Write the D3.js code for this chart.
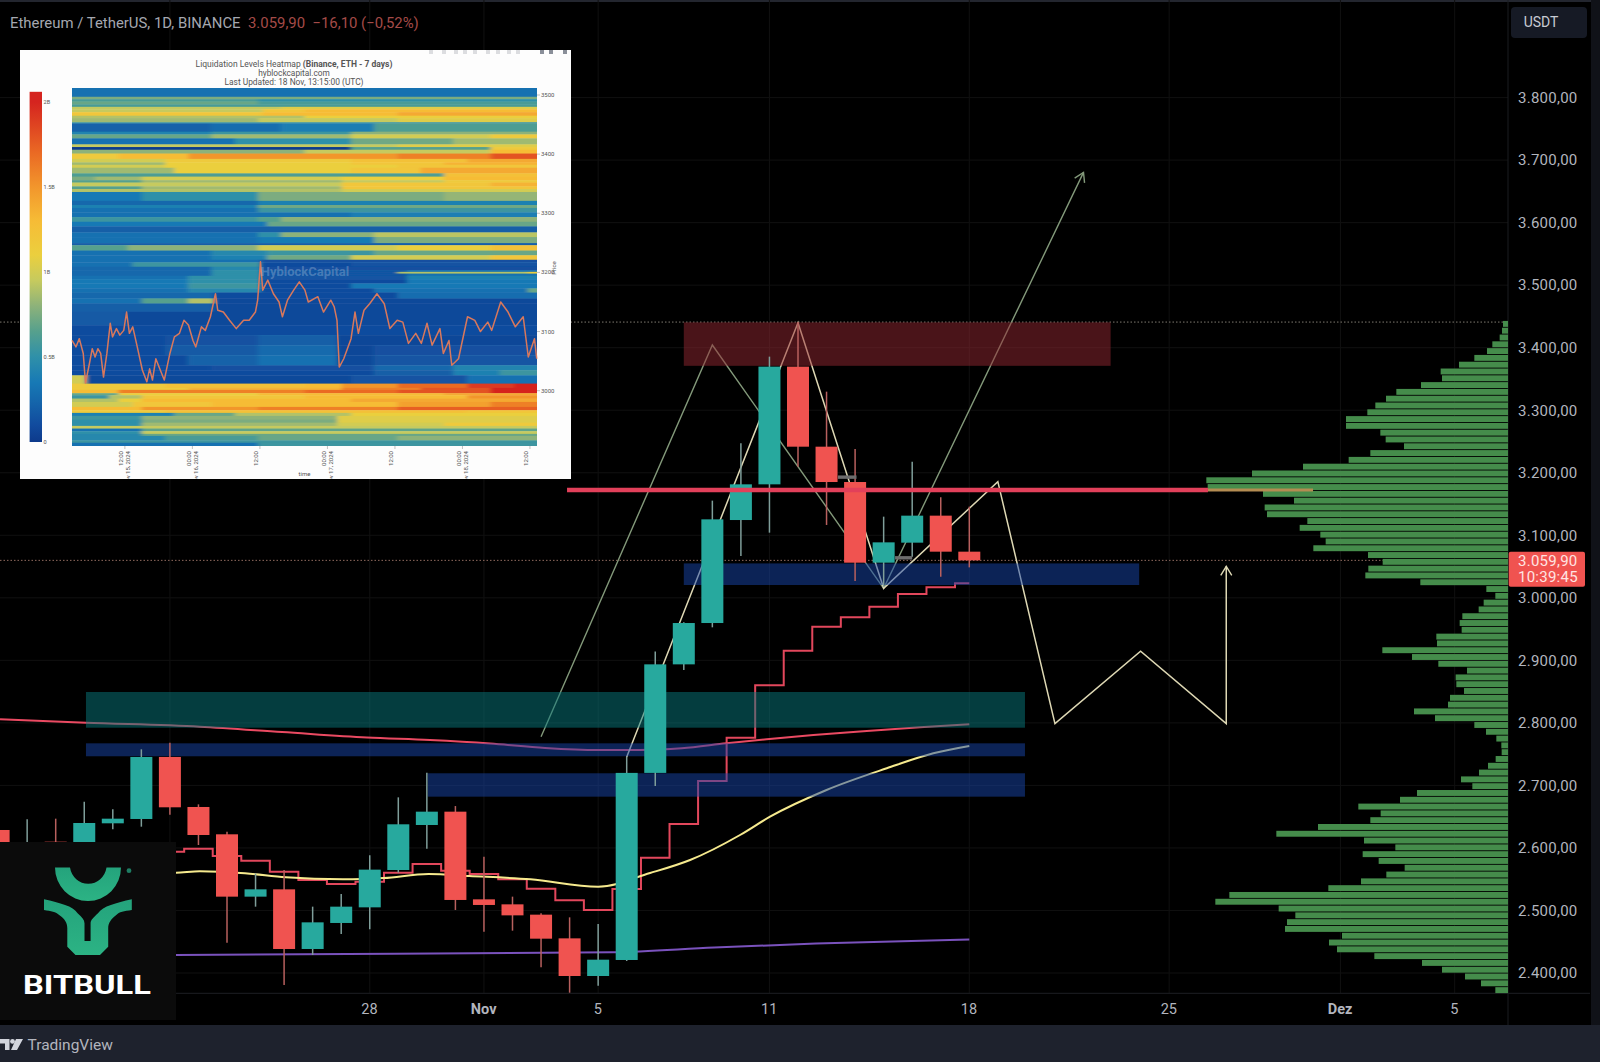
<!DOCTYPE html>
<html><head><meta charset="utf-8">
<script src="https://cdn.jsdelivr.net/npm/d3@7"></script>
<style>html,body{margin:0;padding:0;background:#000;overflow:hidden}svg{display:block}text{font-family:Roboto,sans-serif}</style>
</head><body><svg id="c" width="1600" height="1062"></svg>
<script>
// ---- candles (daily, ETH/USDT) ----
const candleDates=["2024-10-15","2024-10-16","2024-10-17","2024-10-18","2024-10-19","2024-10-20","2024-10-21","2024-10-22","2024-10-23","2024-10-24","2024-10-25","2024-10-26","2024-10-27","2024-10-28","2024-10-29","2024-10-30","2024-10-31","2024-11-01","2024-11-02","2024-11-03","2024-11-04","2024-11-05","2024-11-06","2024-11-07","2024-11-08","2024-11-09","2024-11-10","2024-11-11","2024-11-12","2024-11-13","2024-11-14","2024-11-15","2024-11-16","2024-11-17","2024-11-18"];
const opens =[2628.7,2600,2610,2600,2639.4,2646.3,2745.5,2665.5,2621.8,2522.1,2533.8,2438.4,2480,2505,2564.7,2636.7,2658,2517.8,2509.8,2493.3,2455.4,2395.2,2420.8,2720,2893.6,2959.7,3124.4,3181.5,3369.7,3241.7,3185.2,3056.2,3088.2,3131.4,3073.8];
const highs =[2687,2645.8,2646.8,2674,2661.8,2757.7,2768.4,2669.7,2626,2559.4,2564.7,2506.1,2526.3,2588.2,2680.9,2720.4,2667,2586,2522.1,2495.4,2489,2478.4,2746,2914,2961,3155.4,3247,3385.7,3441,3329.7,3238,3129.8,3217.7,3160.7,3145.8];
const lows  =[2580,2590,2580,2590,2629.8,2634,2653.2,2604.7,2448.5,2506.1,2380.8,2428.8,2462.4,2469.8,2560.5,2598.8,2500.8,2466.1,2467.7,2409,2368.5,2379.7,2419.2,2699,2884.6,2952.8,3066.9,3104.2,3209.8,3116.5,3026.9,3017.8,3065.8,3033.8,3048.7];
const closes=[2600,2609,2590,2639.9,2646.8,2745.5,2665,2620.7,2522.1,2533.8,2438.4,2481,2506.1,2565.3,2637.8,2658,2516.8,2508.8,2492.2,2454.9,2395.2,2421.3,2720,2893.6,2959.7,3125.5,3181.5,3369.7,3241.7,3185.2,3056.2,3088.7,3131.4,3073.8,3059.9];
// ---- stepped indicator, one value per day from 21 Oct ----
const stepDates=candleDates.slice(6);
const stepValues=[2594,2598.8,2587.1,2579.7,2562,2548.7,2542.3,2546,2560.5,2574.3,2563.7,2558.3,2549.8,2534.9,2516.2,2500.8,2534.3,2584.4,2638.3,2707,2776.3,2860,2915.4,2953.8,2968.8,2985.8,3006.1,3016.8,3023.2];
// ---- moving averages: [days from 18 Nov], [price] ----
const redMaDays=[-33.95,-30.94,-26.95,-24.07,-21.1,-18.89,-16.79,-14.86,-13,-11.53,-10.07,-8.5,-7.1,-5.46,-3.59,-1.73,0];
const redMaVals=[2805.7,2800.3,2793.9,2785.4,2776.6,2772.6,2767,2759.8,2756.6,2756.6,2759.3,2767.3,2773.7,2780.6,2787,2792.9,2797.7];
const yellowMaDays=[-28.5,-27.78,-26.95,-25.37,-23.94,-21.94,-20.51,-18.94,-17.51,-15.37,-13,-11.18,-9.78,-8.03,-6.98,-5,-2.89,-1.26,0];
const yellowMaVals=[2560,2560.4,2562.6,2559.4,2553,2549.8,2551.9,2558.3,2555.1,2549.8,2538,2559.9,2580.7,2620.7,2650,2692.7,2727.4,2751.3,2763];
const purpleMaDays=[-28.5,-27.78,-12.5,-8.94,-5.37,0];
const purpleMaVals=[2428,2428.8,2433.1,2440.6,2447.2,2453.7];
// ---- drawn patterns ----
const greenPathDays=[-15,-9,-3,4];
const greenPathVals=[2777.9,3404.3,3015.2,3680.3];
const creamPathDays=[-12,-6,-3,1,3,6,9,9];
const creamPathVals=[2745.4,3440,3015.2,3185.7,2798.8,2914.5,2798.8,3050.4];
// ---- zones: from day, to day, top price, bottom price ----
const zoneRed=[-10,4.95,3440.5,3371];
const zoneTeal=[-30.94,1.95,2849.4,2792.3];
const zoneBlues=[[-10,5.95,3055,3020.5],[-30.94,1.95,2767.3,2746.6],[-18.97,1.95,2719.4,2682]];
const resistance={from:-14.09,to:12.04,tanFrom:8.36,price:3172.4};
const smallTags=[[-4.6,-3.95,3193],[-2.6,-2,3064]];
const periodHigh=3441, lastPrice=3059.9;
// ---- volume profile, top row to bottom row ----
const volumeRows=[15,18,25,47,63,101,147,202,198,261,335,366,398,422,486,486,383,367,312,413,478,615,768,905,901,735,642,730,723,602,625,563,547,584,420,376,419,428,263,65,38,73,88,137,145,139,215,213,377,288,209,123,157,155,132,174,180,282,219,101,66,35,20,19,37,60,87,141,107,273,324,449,382,413,570,695,432,338,436,388,310,365,441,539,836,878,688,638,663,669,498,537,513,401,258,198,129,81,38];
const volumeTop=3442.8, volumeBottom=2367.9;
// ---- axes ----
const priceTicks=[2400,2500,2600,2700,2800,2900,3000,3100,3200,3300,3400,3500,3600,3700,3800];
const dateTicks=["2024-10-21","2024-10-28","2024-11-01","2024-11-05","2024-11-11","2024-11-18","2024-11-25","2024-12-01","2024-12-05"];
const dateTickLabels=["21","28","Nov","5","11","18","25","Dez","5"];
const headerMain="Ethereum / TetherUS, 1D, BINANCE", headerQuote="3.059,90  −16,10 (−0,52%)";
// ---- inset heatmap: top price of each band ----
const heatTops=[3512,3497,3493,3489,3484,3480,3476,3471,3465,3461,3454,3452,3438,3433.4,3426.7,3416.5,3412,3407.5,3401,3392,3386,3382,3377,3367.5,3362,3356,3352,3345.5,3341,3336,3321,3314,3309,3301.5,3293.6,3285.7,3277.8,3267.7,3259.8,3249.6,3246,3237,3229,3221.4,3217,3209.6,3204,3201,3198,3194.3,3188.7,3181.4,3173,3166,3156,3147.5,3133.4,3110.8,3094,3077,3060,3043,3034.7,3026,3012,3004.8,3001.4,2995.8,2992.4,2986.7,2981,2972.6,2967,2962.5,2957.4,2951,2946,2940.5,2936,2931.5,2927,2923.6,2916,2912];
// liquidation in billions along the window: [fraction of window, value]...
const heatSegments=[
[[0,.3]],[[0,.75]],[[0,.6],[.4,.5]],[[0,.7],[.4,.6]],[[0,.6]],[[0,.95],[.45,1.05]],[[0,.95],[.41,1.2],[.5,1.3]],[[0,1.2],[.41,1.3],[.7,1.4]],[[0,.9],[.5,1.1]],[[0,.85],[.4,.95],[.7,1.05]],[[0,.55]],
[[0,.22],[.3,.28],[.45,.38],[.65,.62]],[[0,.42],[.3,.55],[.6,.8]],[[0,.7],[.3,.85],[.6,1],[.9,1.15]],[[0,.3],[.35,.5],[.6,.72],[.82,.85]],[[0,.95],[.7,1.05]],[[0,0],[.6,.65],[.9,1.15]],[[0,.8],[.5,.95],[.9,1.3]],
[[0,1.15],[.1,1.3],[.25,1.5],[.7,1.6],[.9,1.8]],[[0,1],[.2,1.15],[.6,1.25],[.85,1.4]],[[0,.85],[.2,1.1],[.6,1.2],[.8,1.35]],[[0,1],[.2,1.1],[.7,1.2]],[[0,.85],[.22,1.1],[.6,1.2],[.75,1.4]],[[0,.62],[.8,1.25]],
[[0,.75],[.05,.85],[.15,1],[.58,1.1],[.8,1.3]],[[0,.65],[.15,.85],[.58,.95],[.8,1.15]],[[0,.95],[.58,1.2],[.9,1.35]],[[0,.65],[.15,.85],[.58,1.2]],[[0,.9],[.58,1]],[[0,.35],[.15,.5],[.4,.75],[.8,.82]],[[0,.25],[.4,.4]],
[[0,.4],[.4,.72]],[[0,.3],[.4,.55]],[[0,.3],[.6,.38]],[[0,.55],[.4,.65],[.45,.8]],[[0,.35],[.42,.7]],[[0,.2]],[[0,.3],[.4,.5],[.45,.8],[.65,.92]],[[0,.3],[.4,.36],[.65,.75]],[[0,.2]],
[[0,.65],[.12,.8],[.4,1],[.7,1.1],[.9,1.25]],[[0,.3],[.3,.45],[.42,.55],[.65,.7]],[[0,.3],[.3,.4],[.42,.72],[.6,1],[.9,1.2]],[[0,.3],[.405,.12]],[[0,.3],[.13,.55],[.405,.1],[.6,.14]],[[0,.25],[.3,.45],[.405,.12]],
[[0,.25],[.3,.5],[.405,.15],[.72,.3]],[[0,.25],[.3,.5],[.405,.15],[.7,.9],[.98,1.1]],[[0,.25],[.3,.5],[.405,.15],[.72,.3]],[[0,.3],[.25,.5],[.405,.15],[.72,.4]],[[0,.35],[.25,.5],[.405,.1],[.72,.35]],[[0,.35],[.25,.55],[.405,.1],[.6,.35]],[[0,.3],[.25,.45],[.405,.1],[.65,.3],[.98,.7]],
[[0,.25],[.305,.1],[.7,.28]],[[0,.3],[.15,.65],[.25,.9],[.305,.08]],[[0,.2],[.305,.08]],[[0,.18],[.115,.08]],[[0,.1]],[[0,.1],[.2,.13],[.4,.2],[.57,.07]],[[0,.1],[.2,.18],[.4,.26],[.57,.07],[.65,.12]],[[0,.1],[.25,.22],[.4,.3],[.57,.08],[.65,.15]],[[0,.1],[.3,.12],[.65,.25],[.82,.42]],
[[0,.1],[.65,.2],[.82,.4],[.92,.55]],[[0,1],[.03,.08],[.6,.14],[.85,.3]],
[[0,1.15],[.2,1.25],[.5,1.3],[.58,1.5],[.7,1.7],[.85,1.9],[.95,2]],[[0,1.15],[.25,1.35],[.58,1.6],[.75,1.8],[.9,2]],[[0,1.3],[.1,1.6],[.5,1.7],[.7,1.8],[.9,2]],[[0,.7],[.1,1.1],[.4,1.3],[.8,1.4]],[[0,.55],[.08,.9],[.15,1.2],[.5,1.3],[.85,1.5]],[[0,.9],[.1,1.1],[.15,1.3],[.6,1.4]],[[0,1],[.13,1.2],[.3,1.3],[.7,1.45],[.9,1.6]],[[0,1.3],[.15,1.5],[.4,1.6],[.7,1.75]],[[0,1.15],[.2,1.25],[.85,1.2]],
[[0,.4],[.22,.7],[.35,.9],[.6,1.1]],[[0,.55],[.15,.8],[.57,1.05]],[[0,.5],[.15,.75],[.57,1.05]],[[0,.5],[.15,.85],[.57,1],[.8,1.15]],[[0,.95]],[[0,.3],[.15,.68]],[[0,.5],[.15,.95]],[[0,.45],[.15,.7]],[[0,.45],[.2,.6],[.4,.7],[.7,.8]],[[0,.55]],[[0,.3],[.4,.55]]
];
const heatBottom=2906;
const heatPriceTicks=[3500,3400,3300,3200,3100,3000];
const colorbarTicks=[[2,"2B"],[1.5,"1.5B"],[1,"1B"],[.5,"0.5B"],[0,"0"]];
const heatTimeTicks=["2024-11-15T12:00Z","2024-11-16T00:00Z","2024-11-16T12:00Z","2024-11-17T00:00Z","2024-11-17T12:00Z","2024-11-18T00:00Z","2024-11-18T12:00Z"];
const heatTimeLabels=["12:00","00:00","12:00","00:00","12:00","00:00","12:00"];
const heatDateLabels=["Nov 15, 2024","Nov 16, 2024","","Nov 17, 2024","","Nov 18, 2024",""];
const heatLineHours=[0,.7,1.3,2,2.4,3.1,3.6,4.1,4.6,5.1,5.6,6.2,6.8,7.2,7.9,8.5,9.2,9.7,10.2,10.8,11.6,12.5,13.3,13.8,14.3,14.9,15.6,16.4,17.4,18.2,19.1,19.9,20.7,21.5,22,23,23.7,24.6,25.5,25.9,26.9,28,29.2,30.5,31.5,32.6,33,33.5,33.9,34.8,35.8,36.8,37.4,38.3,39.4,40.4,41.4,42,43.7,44.7,46,46.6,47.1,47.5,48.3,49.6,50.3,50.9,51.9,52.9,54.2,55.5,56.5,57.8,58.8,59.8,61.1,62.1,63.1,64,65.4,66,67,67.5,68.7,70.3,71.6,72.6,73.9,74.6,76.2,77.5,78.8,80.2,81.1,82.2,82.6];
const heatLinePrices=[3085,3074,3088,3063,3013,3046,3071,3057,3071,3063,3023,3063,3114,3091,3105,3094,3102,3133,3097,3108,3074,3035,3015,3037,3018,3054,3037,3018,3063,3091,3097,3119,3111,3085,3074,3108,3102,3125,3164,3136,3133,3119,3105,3119,3119,3133,3153,3218,3170,3187,3164,3150,3125,3153,3170,3184,3170,3150,3159,3133,3153,3142,3119,3040,3054,3088,3133,3097,3136,3147,3164,3147,3105,3119,3116,3080,3097,3080,3114,3077,3105,3063,3085,3043,3054,3125,3119,3100,3116,3102,3150,3133,3108,3125,3057,3088,3054];

// ======== scales ========
const svg=d3.select("#c");
const parse=s=>new Date(s+"T00:00:00Z");
const x=d3.scaleUtc().domain([parse("2024-10-21"),parse("2024-11-18")]).range([169.9,969.3]);
const xd=d=>x(new Date(parse("2024-11-18").getTime()+d*864e5));
const y=d3.scaleLinear().domain([2400,3400]).range([973,347.7]);
const plotR=1508, plotB=993.3, footT=1025;
const lineOf=(days,vals,curve)=>d3.line().curve(curve||d3.curveLinear)(days.map((d,i)=>[xd(d),y(vals[i])]));
const priceFmt=d3.formatLocale({decimal:",",thousands:".",grouping:[3],currency:["",""]}).format(",.2f");

// background
svg.append("rect").attr("width",1600).attr("height",1062).attr("fill","#000");
svg.append("rect").attr("width",1600).attr("height",2).attr("fill","#23262f");
const defs=svg.append("defs");
const mk=(id,c)=>defs.append("marker").attr("id",id).attr("markerUnits","userSpaceOnUse").attr("viewBox","-12 -8 14 16").attr("markerWidth",14).attr("markerHeight",16).attr("refX",0).attr("refY",0).attr("orient","auto")
  .append("path").attr("d","M-9,-5.5L0,0L-9,5.5").attr("fill","none").attr("stroke",c).attr("stroke-width",1.4);
mk("ag","#83997a");mk("ac","#ded8b4");
defs.append("filter").attr("id","soft").attr("x","-3%").attr("y","-3%").attr("width","106%").attr("height","106%").append("feGaussianBlur").attr("stdDeviation","2.6 0.6");
defs.append("filter").attr("id","soft2").append("feGaussianBlur").attr("stdDeviation",.25);

// grid
const grid=svg.append("g").attr("stroke","#101010").attr("stroke-width",1);
grid.selectAll(".h").data(priceTicks).join("line").attr("x1",0).attr("x2",plotR).attr("y1",d=>y(d)).attr("y2",d=>y(d));
grid.selectAll(".v").data(dateTicks).join("line").attr("y1",0).attr("y2",plotB).attr("x1",d=>x(parse(d))).attr("x2",d=>x(parse(d)));
svg.append("line").attr("x1",0).attr("x2",1590).attr("y1",plotB).attr("y2",plotB).attr("stroke","#1d1f24");
svg.append("line").attr("x1",plotR).attr("x2",plotR).attr("y1",0).attr("y2",footT).attr("stroke","#1a1c20");

// dotted levels
svg.selectAll(".lvl").data([[periodHigh,"#7f7a70"],[lastPrice,"#8f6a5e"]]).join("line").attr("x1",0).attr("x2",plotR)
  .attr("y1",d=>y(d[0])).attr("y2",d=>y(d[0])).attr("stroke",d=>d[1]).attr("stroke-width",1).attr("stroke-dasharray","1.5 2");

// indicators
const inds=svg.append("g").attr("fill","none");
inds.append("path").attr("d",lineOf(purpleMaDays,purpleMaVals,d3.curveMonotoneX)).attr("stroke","#7a52bd").attr("stroke-width",2);
inds.append("path").attr("d",d3.line().curve(d3.curveStep)(stepDates.map((d,i)=>[x(parse(d)),y(stepValues[i])]))).attr("stroke","#e2475c").attr("stroke-width",2);
inds.append("path").attr("d",lineOf(redMaDays,redMaVals,d3.curveMonotoneX)).attr("stroke","#ea4a62").attr("stroke-width",2);
inds.append("path").attr("d",lineOf(yellowMaDays,yellowMaVals,d3.curveMonotoneX)).attr("stroke","#f6ea8e").attr("stroke-width",2);
// patterns
inds.append("path").attr("d",lineOf(greenPathDays,greenPathVals)).attr("stroke","#83997a").attr("stroke-width",1.4).attr("marker-end","url(#ag)");
inds.append("path").attr("d",lineOf(creamPathDays,creamPathVals)).attr("stroke","#ded8b4").attr("stroke-width",1.5).attr("stroke-linejoin","miter").attr("marker-end","url(#ac)");

// zones
const zone=(z,c)=>svg.append("rect").attr("x",xd(z[0])).attr("width",xd(z[1])-xd(z[0])).attr("y",y(z[2])).attr("height",y(z[3])-y(z[2])).attr("fill",c);
zone(zoneRed,"rgba(148,40,50,.5)");
zone(zoneTeal,"rgba(8,122,126,.5)");
zoneBlues.forEach(z=>zone(z,"rgba(24,70,172,.5)"));

// candles
const candles=candleDates.map((d,i)=>({d:parse(d),o:opens[i],h:highs[i],l:lows[i],c:closes[i]}));
const bw=22;
const cg=svg.append("g");
cg.selectAll("line").data(candles).join("line").attr("x1",d=>x(d.d)).attr("x2",d=>x(d.d)).attr("y1",d=>y(d.h)).attr("y2",d=>y(d.l))
  .attr("stroke",d=>d.c>=d.o?"#7f9e9a":"#b8605e").attr("stroke-width",1.5);
cg.selectAll("rect").data(candles).join("rect").attr("x",d=>x(d.d)-bw/2).attr("width",bw)
  .attr("y",d=>y(Math.max(d.o,d.c))).attr("height",d=>Math.max(1,Math.abs(y(d.o)-y(d.c))))
  .attr("fill",d=>d.c>=d.o?"#27a99e":"#f05350");
svg.selectAll(".tag").data(smallTags).join("line").attr("x1",d=>xd(d[0])).attr("x2",d=>xd(d[1])).attr("y1",d=>y(d[2])).attr("y2",d=>y(d[2])).attr("stroke","#6d6d6d").attr("stroke-width",3.4);

// volume profile
const volY=d3.scaleBand().domain(d3.range(volumeRows.length)).range([y(volumeTop),y(volumeBottom)]).paddingInner(.13);
const volX=d3.scaleLinear().domain([0,905]).range([plotR,plotR-905/3]);
svg.append("g").selectAll("rect").data(volumeRows).join("rect").attr("x",d=>volX(d)).attr("width",d=>plotR-volX(d)).attr("y",(d,i)=>volY(i)).attr("height",volY.bandwidth()).attr("fill","#458c4b");

// resistance
svg.append("line").attr("x1",xd(resistance.from)).attr("x2",xd(resistance.tanFrom)).attr("y1",y(resistance.price)).attr("y2",y(resistance.price)).attr("stroke","#e2405a").attr("stroke-width",4.4);
svg.append("line").attr("x1",xd(resistance.tanFrom)).attr("x2",xd(resistance.to)).attr("y1",y(resistance.price)).attr("y2",y(resistance.price)).attr("stroke","#b48c52").attr("stroke-width",3.2);

// axes
const ya=svg.append("g").attr("transform",`translate(${plotR},0)`).call(d3.axisRight(y).tickValues(priceTicks).tickFormat(priceFmt).tickSize(0).tickPadding(10));
ya.select(".domain").remove();
ya.selectAll("text").attr("font-size",15).attr("fill","#b2b5be").attr("font-family","Roboto").attr("letter-spacing",".25");
const xa=svg.append("g").attr("transform",`translate(0,${plotB})`).call(d3.axisBottom(x).tickValues(dateTicks.map(parse)).tickFormat((d,i)=>dateTickLabels[i]).tickSize(0).tickPadding(10));
xa.select(".domain").remove();
xa.selectAll("text").attr("font-size",14.5).attr("fill","#b2b5be").attr("font-family","Roboto").attr("dx",-.8).attr("font-weight",(d,i)=>/[a-z]/i.test(dateTickLabels[i])?700:400);

// footer + gutter
svg.append("rect").attr("x",0).attr("y",footT).attr("width",1600).attr("height",1062-footT).attr("fill","#1e222d");
svg.append("rect").attr("x",1591).attr("y",0).attr("width",9).attr("height",footT).attr("fill","#101218");
// TV logo
svg.append("path").attr("fill","#d1d4dc").attr("d","M0,1039H9.5V1050H5V1043.5H0ZM16,1039H23L17,1050H11Z");
svg.append("circle").attr("cx",12.5).attr("cy",1041.4).attr("r",2.4).attr("fill","#d1d4dc");
svg.append("text").attr("x",27.5).attr("y",1049.5).attr("font-size",15.5).attr("fill","#b2b5be").text("TradingView");

// price tag
svg.append("rect").attr("x",1508.7).attr("y",551.7).attr("width",76.3).attr("height",35).attr("rx",2).attr("fill","#f05350");
svg.append("text").attr("x",1518).attr("y",565.5).attr("font-size",15).attr("fill","#ffe4e2").attr("letter-spacing",".25").text(priceFmt(lastPrice));
svg.append("text").attr("x",1518).attr("y",581.5).attr("font-size",15).attr("fill","#ffe4e2").attr("letter-spacing",".25").text("10:39:45");

// header
svg.append("text").attr("x",10).attr("y",28).attr("font-size",14.9).attr("fill","#a5a8b0").text(headerMain);
svg.append("text").attr("x",248).attr("y",28).attr("font-size",14.9).attr("fill","#a54b48").attr("xml:space","preserve").text(headerQuote);
svg.append("rect").attr("x",1511).attr("y",7).attr("width",76).attr("height",31).attr("rx",4).attr("fill","#161a25");
svg.append("text").attr("x",1541).attr("y",27).attr("text-anchor","middle").attr("font-size",14).attr("fill","#c8cbd3").text("USDT");

// ======== logo panel ========
const logo=svg.append("g");
logo.append("rect").attr("x",0).attr("y",842).attr("width",176).attr("height",178).attr("fill","#0b0b0b");
const lg=defs.append("linearGradient").attr("id","lg").attr("x1",0).attr("x2",0).attr("y1",0).attr("y2",1);
lg.append("stop").attr("offset",0).attr("stop-color","#24a37c");lg.append("stop").attr("offset",1).attr("stop-color","#2cb384");
logo.append("path").attr("fill","url(#lg)").attr("d","M55,867.5A33,33.5 0 0 0 121,867.5H106.5A18.5,19.5 0 0 1 70,867.5Z");
logo.append("path").attr("fill","url(#lg)").attr("d","M44,899.3C60,903 73,906 77.6,913.3C82,917 84.5,920 84.5,923.3V941H90.6V923.3C90.6,920 94,917 98,913.3C103,906 116,903 131.8,899.3V910C124,911 119,912 116.3,915C111,919 108.2,923 108.2,928.3V946.7L100,955H75.5L67.3,946.7V928.3C67.3,923 65,919 59.2,915C56,912 51,911 44,910Z");
logo.append("circle").attr("cx",129).attr("cy",870.7).attr("r",2.4).attr("fill","#1e7d63");
logo.append("text").attr("x",23).attr("y",994).attr("font-size",26).attr("font-weight",700).attr("fill","#fff").attr("textLength",128).attr("lengthAdjust","spacingAndGlyphs").attr("font-family","Inter,Roboto").text("BITBULL");

// ======== inset ========
const P={x:20,y:50,w:551,h:429}, H={x0:72,x1:537,y0:88,y1:446};
defs.append("clipPath").attr("id","pc").append("rect").attr("x",P.x).attr("y",P.y).attr("width",P.w).attr("height",P.h);
defs.append("clipPath").attr("id","hc").append("rect").attr("x",H.x0).attr("y",H.y0).attr("width",H.x1-H.x0).attr("height",H.y1-H.y0);
const ins=svg.append("g").attr("clip-path","url(#pc)");
ins.append("rect").attr("x",P.x).attr("y",P.y).attr("width",P.w).attr("height",P.h).attr("fill","#fdfdfd");
const heatY=d3.scaleLinear().domain([3500,3000]).range([95,390.7]);
const heatF=d3.scaleLinear().domain([0,1]).range([H.x0,H.x1]);
const heatT=d3.scaleUtc().domain([new Date("2024-11-15T02:36:00Z"),new Date("2024-11-18T13:15:00Z")]).range([H.x0,H.x1]);
const colDom=[0,.1,.25,.35,.5,.65,.8,.95,1.1,1.3,1.5,1.7,2];
const colRange=["#0d3a8b","#114b9e","#1568ac","#1779b5","#2f90a9","#56a08d","#8db27a","#c6ca5e","#ebcf3e","#f6bc36","#f2962c","#ea6a24","#d5241f"];
const col=d3.scaleLinear().domain(colDom).range(colRange);
const cells=[];
heatTops.forEach((p,i)=>{const bot=i+1<heatTops.length?heatTops[i+1]:heatBottom;
  heatSegments[i].forEach((s,j)=>{const e=j+1<heatSegments[i].length?heatSegments[i][j+1][0]:1;cells.push({p,bot,t0:s[0],t1:e,v:s[1]});});});
ins.append("g").attr("clip-path","url(#hc)").append("g").attr("filter","url(#soft)").selectAll("rect").data(cells).join("rect")
  .attr("x",d=>heatF(d.t0)-(d.t0===0?10:0)).attr("width",d=>heatF(d.t1)-heatF(d.t0)+.4+(d.t0===0?10:0)+(d.t1===1?10:0))
  .attr("y",d=>heatY(d.p)-(d.p===3512?8:0)).attr("height",d=>heatY(d.bot)-heatY(d.p)+.4+(d.p===3512?8:0)+(d.bot===heatBottom?8:0)).attr("fill",d=>col(d.v));
// price line
const hStart=new Date("2024-11-15T02:36:00Z").getTime();
ins.append("path").attr("fill","none").attr("stroke","#d9785c").attr("stroke-width",1.5).attr("stroke-linejoin","round").attr("filter","url(#soft2)")
  .attr("d",d3.line()(d3.zip(heatLineHours,heatLinePrices).map(d=>[heatT(new Date(hStart+d[0]*36e5)),heatY(d[1])])));
ins.append("text").attr("x",305).attr("y",276).attr("text-anchor","middle").attr("font-size",13).attr("font-weight",700).attr("fill","rgba(255,255,255,.24)").attr("font-family","Open Sans").text("HyblockCapital");
// colorbar
const cbY=d3.scaleLinear().domain([0,2]).range([442,102]);
const cbG=defs.append("linearGradient").attr("id","cb").attr("x1",0).attr("x2",0).attr("y1",1).attr("y2",0);
colDom.forEach((d,i)=>cbG.append("stop").attr("offset",d/2.06).attr("stop-color",colRange[i]));
ins.append("rect").attr("x",29.6).attr("width",12.4).attr("y",cbY(2.06)).attr("height",442-cbY(2.06)).attr("fill","url(#cb)");
const small=(g,x,y,t,s,a,w)=>g.append("text").attr("x",x).attr("y",y).attr("font-size",s).attr("fill","#555").attr("text-anchor",a||"start").attr("font-family","Open Sans").attr("font-weight",w||400).text(t);
colorbarTicks.forEach(c=>small(ins,43.6,cbY(c[0])+2,c[1],5.6));
heatPriceTicks.forEach(p=>{small(ins,541,heatY(p)+2,p,6);ins.append("line").attr("x1",537).attr("x2",540).attr("y1",heatY(p)).attr("y2",heatY(p)).attr("stroke","#999").attr("stroke-width",.6);});
heatTimeTicks.forEach((t,i)=>{const tx=heatT(new Date(t));
  ins.append("line").attr("x1",tx).attr("x2",tx).attr("y1",446).attr("y2",449).attr("stroke","#999").attr("stroke-width",.6);
  ins.append("text").attr("transform",`translate(${tx-1.5},451) rotate(-90)`).attr("text-anchor","end").attr("font-size",6).attr("fill","#555").attr("font-family","Open Sans").text(heatTimeLabels[i]);
  if(heatDateLabels[i])ins.append("text").attr("transform",`translate(${tx+5.5},451) rotate(-90)`).attr("text-anchor","end").attr("font-size",6).attr("fill","#555").attr("font-family","Open Sans").text(heatDateLabels[i]);
});
small(ins,304.5,475.5,"time",6,"middle");
ins.append("text").attr("transform","translate(556,268) rotate(-90)").attr("text-anchor","middle").attr("font-size",6).attr("fill","#555").attr("font-family","Open Sans").text("Price");
// titles
const tt=ins.append("text").attr("x",294).attr("y",66.7).attr("text-anchor","middle").attr("font-size",8.5).attr("fill","#555").attr("font-family","Open Sans");
tt.append("tspan").text("Liquidation Levels Heatmap ");
tt.append("tspan").attr("font-weight",700).text("(Binance, ETH - 7 days)");
small(ins,294,76,"hyblockcapital.com",8.3,"middle");
small(ins,294,85.4,"Last Updated: 18 Nov, 13:15:00 (UTC)",8.4,"middle");
// mode bar
const modebarX=[431,444,456,465,475,488,498,509,518,542,551,565];
ins.selectAll(".mb").data(modebarX).join("rect").attr("x",d=>d-2).attr("y",50).attr("width",4).attr("height",4).attr("fill",(d,i)=>i>8?"#8a8f99":"#dcdde0");
</script></body></html>
